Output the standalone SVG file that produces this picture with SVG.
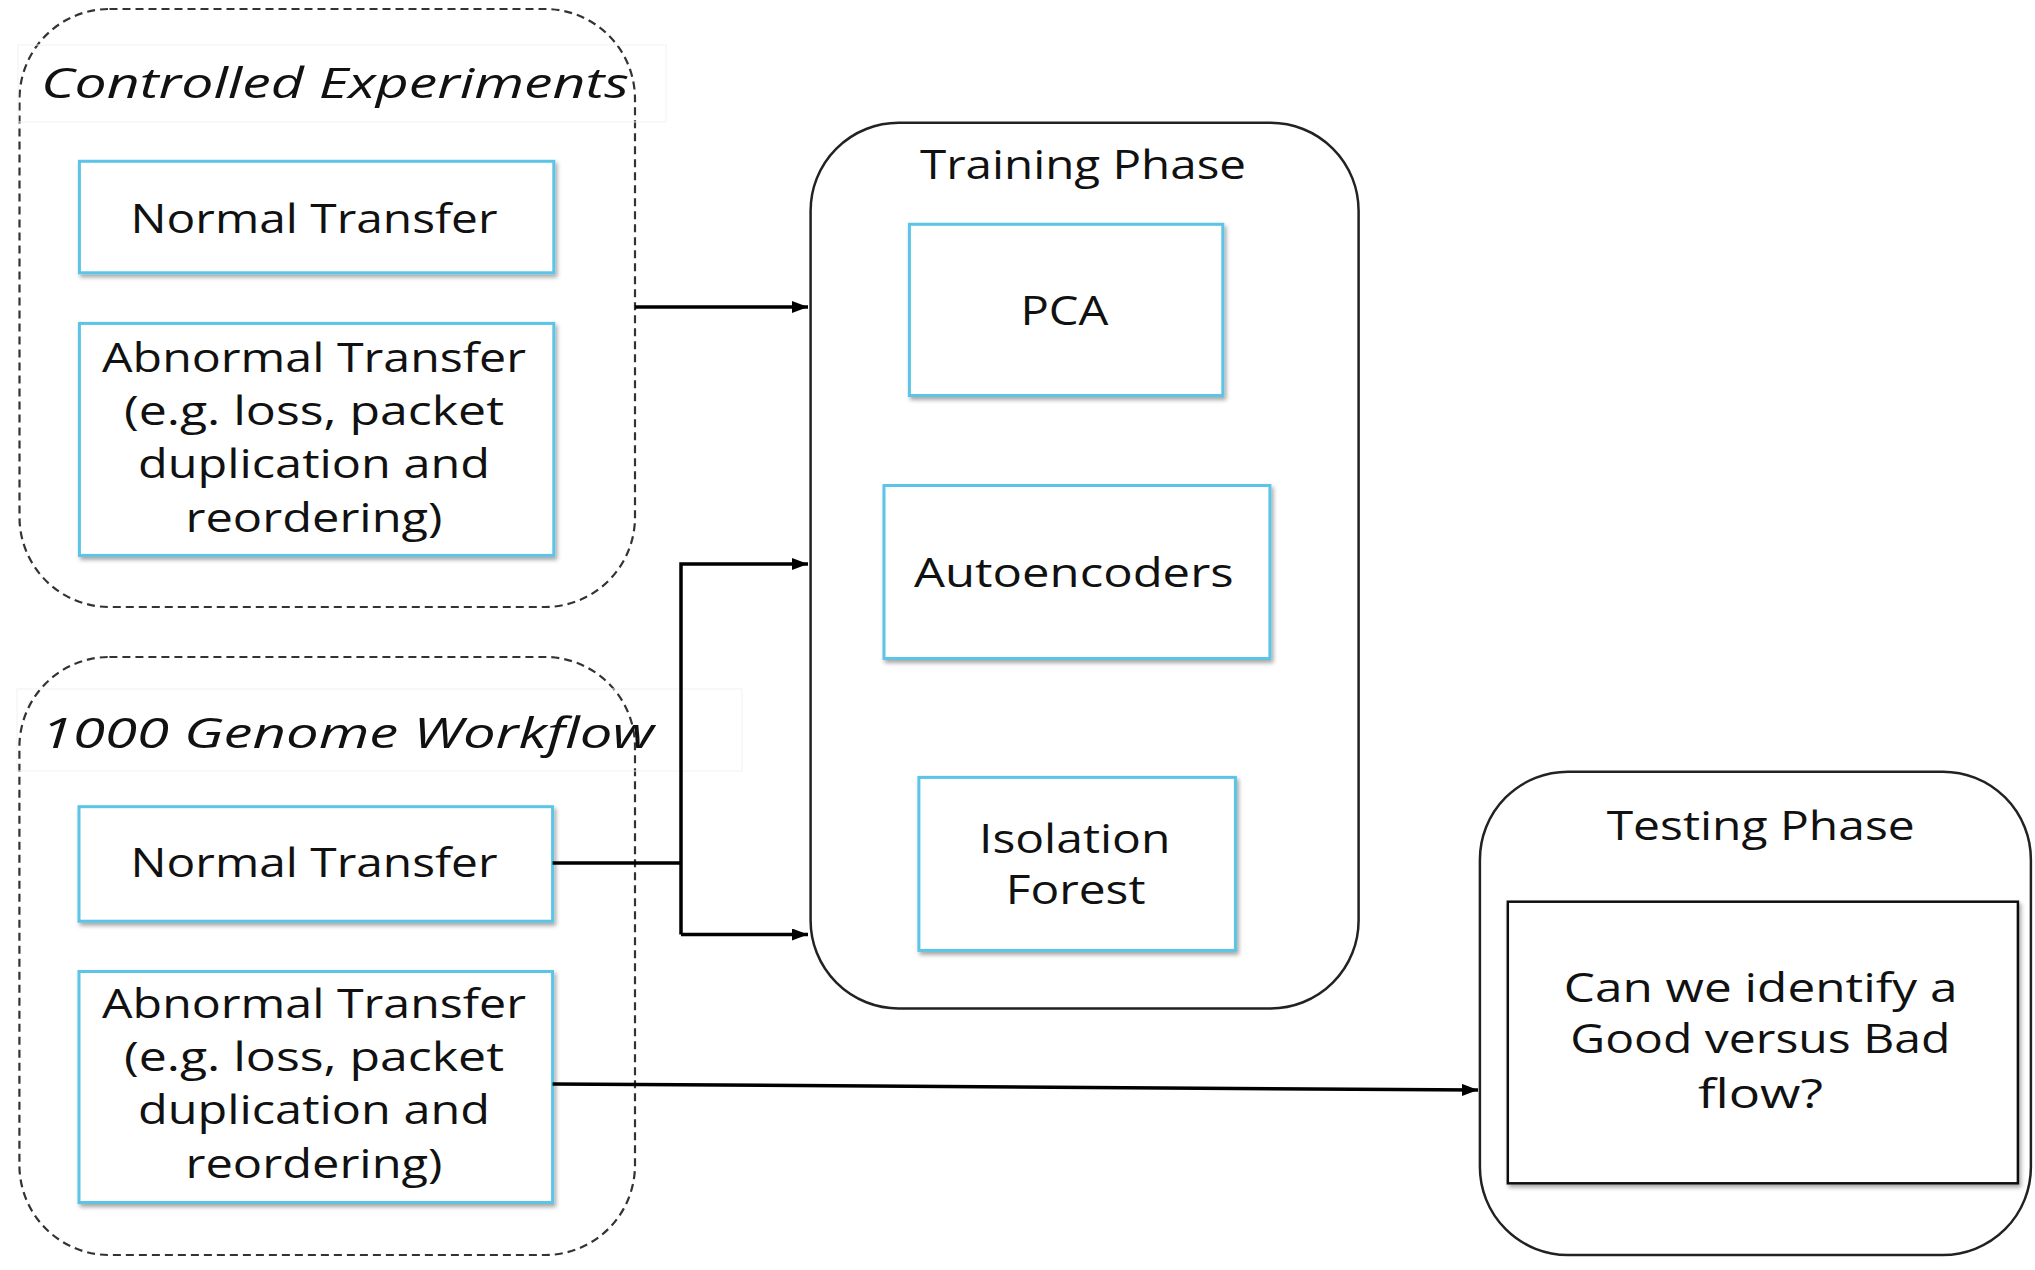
<svg xmlns="http://www.w3.org/2000/svg" width="2035" height="1270" viewBox="0 0 2035 1270">
<style>
.t{font-family:"Open Sans","Liberation Sans",sans-serif;font-size:40px;fill:#111;text-anchor:middle}
.ti{font-family:"Open Sans","Liberation Sans",sans-serif;font-size:42px;fill:#111;font-style:italic;text-anchor:start}
.dash{fill:none;stroke:#333;stroke-width:2.2;stroke-dasharray:8 5}
.blue{fill:#fff;stroke:#5BC4E6;stroke-width:3}
.phase{fill:#fff;stroke:#222;stroke-width:2.5}
.inner{fill:#fff;stroke:#111;stroke-width:2.5}
.faint{fill:none;stroke:#f2f2f2;stroke-width:1}
.c{fill:none;stroke:#000;stroke-width:3.5}
</style>
<defs>
<filter id="sh" x="-10%" y="-10%" width="120%" height="130%">
<feDropShadow dx="2" dy="3" stdDeviation="2" flood-color="#000" flood-opacity="0.35"/>
</filter>
<marker id="ah" markerUnits="userSpaceOnUse" markerWidth="17" markerHeight="12" refX="16" refY="6" orient="auto">
<path d="M0 0 L16 6 L0 12 z" fill="#000"/>
</marker>
</defs>
<rect width="2035" height="1270" fill="#fff"/>

<g id="controlled-experiments">
<rect class="dash" x="19.5" y="9" width="615.5" height="598" rx="90" ry="90"/>
<rect class="faint" x="18" y="45" width="648" height="77"/>
<text class="ti" x="41" y="98" textLength="588" lengthAdjust="spacingAndGlyphs">Controlled Experiments</text>
</g>
<g id="normal-transfer-1">
<rect class="blue" filter="url(#sh)" x="79.4" y="161.3" width="474.4" height="111.5"/>
<text class="t" x="314" y="232.5" textLength="367" lengthAdjust="spacingAndGlyphs">Normal Transfer</text>
</g>
<g id="abnormal-transfer-1">
<rect class="blue" filter="url(#sh)" x="79.4" y="323.4" width="474.4" height="232"/>
<text class="t" x="314" y="371.7" textLength="424" lengthAdjust="spacingAndGlyphs">Abnormal Transfer</text>
<text class="t" x="314" y="425" textLength="380" lengthAdjust="spacingAndGlyphs">(e.g. loss, packet</text>
<text class="t" x="314" y="478.4" textLength="352" lengthAdjust="spacingAndGlyphs">duplication and</text>
<text class="t" x="314" y="532" textLength="257" lengthAdjust="spacingAndGlyphs">reordering)</text>
</g>

<g id="genome-workflow">
<rect class="dash" x="19.4" y="657" width="615.6" height="598" rx="90" ry="90"/>
<rect class="faint" x="17" y="689" width="725" height="82"/>
<text class="ti" x="41" y="747.7" textLength="613" lengthAdjust="spacingAndGlyphs">1000 Genome Workflow</text>
</g>
<g id="normal-transfer-2">
<rect class="blue" filter="url(#sh)" x="79" y="806.7" width="473.6" height="114.5"/>
<text class="t" x="314" y="877" textLength="367" lengthAdjust="spacingAndGlyphs">Normal Transfer</text>
</g>
<g id="abnormal-transfer-2">
<rect class="blue" filter="url(#sh)" x="79" y="971.5" width="473.6" height="231"/>
<text class="t" x="314" y="1017.7" textLength="424" lengthAdjust="spacingAndGlyphs">Abnormal Transfer</text>
<text class="t" x="314" y="1070.7" textLength="380" lengthAdjust="spacingAndGlyphs">(e.g. loss, packet</text>
<text class="t" x="314" y="1124" textLength="352" lengthAdjust="spacingAndGlyphs">duplication and</text>
<text class="t" x="314" y="1178.4" textLength="257" lengthAdjust="spacingAndGlyphs">reordering)</text>
</g>

<g id="training-phase">
<rect class="phase" x="810.6" y="122.8" width="548" height="885.6" rx="88" ry="88"/>
<text class="t" x="1083" y="178.5" textLength="326" lengthAdjust="spacingAndGlyphs">Training Phase</text>
</g>
<g id="pca">
<rect class="blue" filter="url(#sh)" x="909.4" y="224.3" width="313.4" height="171.2"/>
<text class="t" x="1064.4" y="324.7" textLength="88" lengthAdjust="spacingAndGlyphs">PCA</text>
</g>
<g id="autoencoders">
<rect class="blue" filter="url(#sh)" x="884" y="485.5" width="385.9" height="173"/>
<text class="t" x="1073.8" y="587" textLength="319.5" lengthAdjust="spacingAndGlyphs">Autoencoders</text>
</g>
<g id="isolation-forest">
<rect class="blue" filter="url(#sh)" x="918.9" y="777.4" width="316.5" height="173"/>
<text class="t" x="1074.7" y="852.9" textLength="191.4" lengthAdjust="spacingAndGlyphs">Isolation</text>
<text class="t" x="1075.6" y="904" textLength="139.7" lengthAdjust="spacingAndGlyphs">Forest</text>
</g>

<g id="testing-phase">
<rect class="phase" x="1479.9" y="771.7" width="551" height="483.3" rx="88" ry="88"/>
<text class="t" x="1760.7" y="840" textLength="308" lengthAdjust="spacingAndGlyphs">Testing Phase</text>
</g>
<g id="good-vs-bad">
<rect class="inner" filter="url(#sh)" x="1507.8" y="901.7" width="510.1" height="281.6"/>
<text class="t" x="1760.6" y="1001.7" textLength="393.7" lengthAdjust="spacingAndGlyphs">Can we identify a</text>
<text class="t" x="1760.3" y="1053.3" textLength="380" lengthAdjust="spacingAndGlyphs">Good versus Bad</text>
<text class="t" x="1760.5" y="1108.3" textLength="125" lengthAdjust="spacingAndGlyphs">flow?</text>
</g>

<g id="connectors">
<path class="c" d="M635 307 H808" marker-end="url(#ah)"/>
<path class="c" d="M552.6 863 H681"/>
<path class="c" d="M681 934.5 V564 H808" marker-end="url(#ah)" stroke-linejoin="miter"/>
<path class="c" d="M681 934.5 H808" marker-end="url(#ah)"/>
<path class="c" d="M552.6 1084 L1478 1090" marker-end="url(#ah)"/>
</g>
</svg>
